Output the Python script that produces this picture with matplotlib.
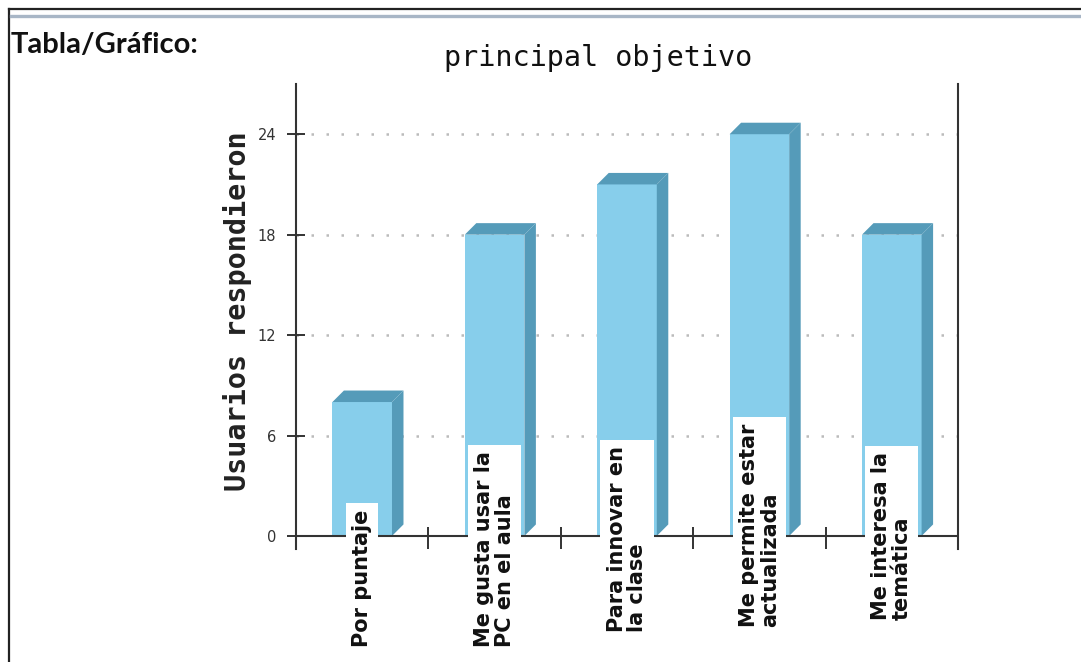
import matplotlib
matplotlib.use("Agg")
import matplotlib.pyplot as plt
from matplotlib.patches import Polygon
from matplotlib.lines import Line2D

# datos de la encuesta
categorias = ["Por puntaje",
              "Me gusta usar la\nPC en el aula",
              "Para innovar en\nla clase",
              "Me permite estar\nactualizada",
              "Me interesa la\ntemática"]
usuarios = [8, 18, 21, 24, 18]
ticks_y = [0, 6, 12, 18, 24]

titulo = "principal objetivo"
etiqueta_y = "Usuarios respondieron"
encabezado = "Tabla/Gráfico:"

# donde termina cada etiqueta abajo (pixeles de la figura)
base_etiquetas = [15, 15, 30, 35, 42]

W, H = 1081, 662
fig = plt.figure(figsize=(W / 100, H / 100), dpi=100)
fig.patch.set_facecolor("white")

# marco de la pagina
fig.add_artist(Line2D([9 / W, 1], [1 - 9 / H, 1 - 9 / H], color="#222222", lw=1.6))
fig.add_artist(Line2D([9 / W, 9 / W], [0, 1 - 9 / H], color="#222222", lw=1.6))
fig.add_artist(Line2D([11 / W, 1], [1 - 15.5 / H, 1 - 15.5 / H], color="#a8b6c6", lw=2.4))

fig.text(11 / W, 1 - 45 / H, encabezado, family=["Lato", "DejaVu Sans"],
         weight="bold", size=21, va="center", ha="left", color="#111111")

ax = fig.add_axes([296 / W, (H - 549) / H, (958 - 296) / W, (549 - 84) / H])
ax.set_xlim(0, 5)
ax.set_ylim(-0.78, 27)

x = [i + 0.5 for i in range(len(usuarios))]
frente = "#87ceeb"
lado = "#559bb9"
barras = ax.bar(x, usuarios, width=0.45, color=frente, zorder=2)

# profundidad de las barras (efecto 3D)
ancho_px = 958 - 296
alto_px = 549 - 84
dx = 11.5 / ancho_px * 5
dy = 11.5 / alto_px * (27 + 0.78)
for b in barras:
    x0, x1, h = b.get_x(), b.get_x() + b.get_width(), b.get_height()
    ax.add_patch(Polygon([(x1, 0), (x1 + dx, dy), (x1 + dx, h + dy), (x1, h)],
                         closed=True, facecolor=lado, edgecolor="none", zorder=2))
    ax.add_patch(Polygon([(x0, h), (x0 + dx, h + dy), (x1 + dx, h + dy), (x1, h)],
                         closed=True, facecolor=lado, edgecolor="none", zorder=2))

ax.axhline(0, color="#333333", lw=1.5, zorder=3)

ax.set_yticks(ticks_y)
ax.set_yticklabels([str(t) for t in ticks_y], family="DejaVu Sans",
                   size=10.5, color="#333333")
ax.tick_params(axis="y", direction="inout", length=12.5, width=1.4, color="#333333", pad=8)
ax.set_xticks([1, 2, 3, 4])
ax.tick_params(axis="x", direction="in", length=15.5, width=1.4, color="#333333",
               labelbottom=False)

for lado_eje in ["left", "right"]:
    ax.spines[lado_eje].set_linewidth(1.5)
    ax.spines[lado_eje].set_color("#333333")
ax.spines["top"].set_visible(False)
ax.spines["bottom"].set_visible(False)

ax.yaxis.grid(True, color="#bbbbbb", lw=1.8, linestyle=(0, (1, 5)))
ax.set_axisbelow(True)
for g in ax.get_ygridlines()[:1]:
    g.set_visible(False)

# etiquetas de categoria sobre recuadro blanco
for xi, texto, base in zip(x, categorias, base_etiquetas):
    ax.annotate(texto, xy=(xi, base), xycoords=("data", "figure pixels"),
                rotation=90, rotation_mode="anchor", ha="left", va="center",
                family="DejaVu Sans", weight="bold",
                size=15, linespacing=1.05, color="#111111", zorder=5,
                bbox=dict(boxstyle="square,pad=0.3", fc="white", ec="none"),
                annotation_clip=False)

fig.text(598 / W, 1 - 58 / H, titulo, family="DejaVu Sans Mono", size=20.5,
         ha="center", va="center", color="#111111")
fig.text(237 / W, 1 - 311 / H, etiqueta_y, family="DejaVu Sans Mono", weight="bold",
         size=20.5, rotation=90, ha="center", va="center", color="#222222")

fig.savefig("out.png", dpi=100)
